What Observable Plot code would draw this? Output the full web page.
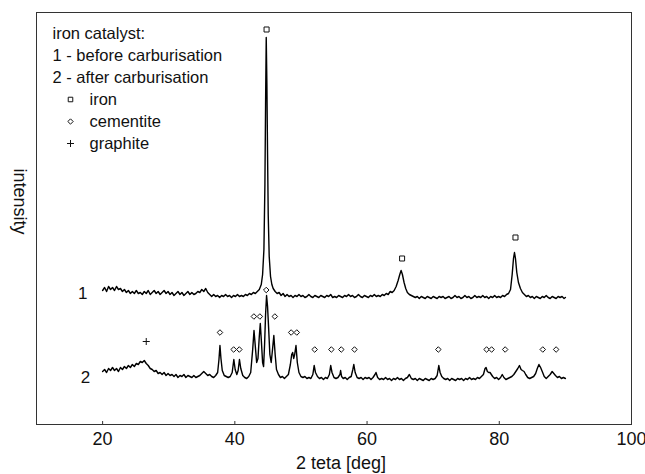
<!DOCTYPE html>
<html><head><meta charset="utf-8">
<script src="https://cdn.jsdelivr.net/npm/d3@7"></script>
<script src="https://cdn.jsdelivr.net/npm/@observablehq/plot@0.6"></script>
<style>html,body{margin:0;padding:0;background:#fff}</style>
</head><body><div id="chart"></div>
<script>
// curve 1 – before carburisation: [2θ, intensity]
const curve1 = [
[20.0,134],[20.3,137],[20.6,133],[20.9,138],[21.2,135],[21.5,137],[21.8,134],[22.1,138],[22.4,135],[22.7,136],
[23.0,133],[23.3,135],[23.6,132],[23.9,134],[24.2,131],[24.5,133],[24.8,131],[25.1,134],[25.4,131],[25.7,132],
[26.0,130],[26.3,133],[26.6,131],[26.9,134],[27.2,130],[27.5,132],[27.8,134],[28.1,131],[28.4,133],[28.7,130],
[29.0,132],[29.3,134],[29.6,131],[29.9,133],[30.2,130],[30.5,132],[30.8,129],[31.1,131],[31.4,133],[31.7,130],
[32.0,132],[32.3,129],[32.6,131],[32.9,133],[33.2,130],[33.5,132],[33.8,130],[34.1,131],[34.4,133],[34.7,132],
[35.0,135],[35.3,133],[35.6,136],[35.9,132],[36.2,130],[36.5,128],[36.8,130],[37.1,128],[37.4,129],[37.7,127],
[38.0,129],[38.3,128],[38.6,130],[38.9,128],[39.2,129],[39.5,127],[39.8,129],[40.1,128],[40.4,130],[40.7,128],
[41.0,129],[41.3,128],[41.6,130],[41.9,129],[42.2,131],[42.5,130],[42.8,132],[43.1,131],[43.4,133],[43.7,135],
[44.0,140],[44.2,150],[44.4,175],[44.55,240],[44.65,320],[44.75,387],[44.85,340],[44.95,270],[45.05,210],[45.2,168],
[45.4,148],[45.6,140],[45.8,136],[46.1,133],[46.4,131],[46.7,132],[47.0,129],[47.3,131],[47.6,128],[47.9,130],
[48.2,128],[48.5,129],[48.8,127],[49.1,129],[49.4,128],[49.7,130],[50.0,128],[50.3,129],[50.6,127],[50.9,128],
[51.2,130],[51.5,128],[51.8,127],[52.1,129],[52.4,128],[52.7,127],[53.0,129],[53.3,128],[53.6,127],[53.9,129],
[54.2,128],[54.5,130],[54.8,127],[55.1,128],[55.4,127],[55.7,129],[56.0,128],[56.3,127],[56.6,129],[56.9,128],
[57.2,130],[57.5,128],[57.8,129],[58.1,127],[58.4,128],[58.7,130],[59.0,128],[59.3,127],[59.6,129],[59.9,128],
[60.2,127],[60.5,129],[60.8,128],[61.1,130],[61.4,128],[61.7,129],[62.0,128],[62.3,130],[62.6,129],[62.9,131],
[63.2,130],[63.5,133],[63.8,132],[64.1,134],[64.4,138],[64.7,144],[64.95,150],[65.15,154],[65.35,150],[65.6,142],
[65.85,136],[66.1,132],[66.4,130],[66.7,129],[67.0,128],[67.3,127],[67.6,128],[67.9,126],[68.2,128],[68.5,127],
[68.8,126],[69.1,128],[69.4,127],[69.7,126],[70.0,128],[70.3,127],[70.6,126],[70.9,128],[71.2,127],[71.5,128],
[71.8,126],[72.1,127],[72.4,128],[72.7,126],[73.0,127],[73.3,129],[73.6,127],[73.9,128],[74.2,126],[74.5,127],
[74.8,129],[75.1,127],[75.4,128],[75.7,126],[76.0,127],[76.3,129],[76.6,127],[76.9,128],[77.2,127],[77.5,129],
[77.8,127],[78.1,128],[78.4,126],[78.7,128],[79.0,127],[79.3,129],[79.6,127],[79.9,128],[80.2,127],[80.5,129],
[80.8,128],[81.1,130],[81.4,131],[81.7,135],[81.95,150],[82.15,166],[82.3,172],[82.45,166],[82.65,152],[82.9,142],
[83.2,136],[83.5,132],[83.8,130],[84.1,128],[84.4,129],[84.7,127],[85.0,128],[85.3,126],[85.6,128],[85.9,127],
[86.2,126],[86.5,128],[86.8,127],[87.1,129],[87.4,127],[87.7,126],[88.0,128],[88.3,127],[88.6,126],[88.9,128],
[89.2,127],[89.5,128],[89.8,126],[90.0,127]
];
// curve 2 – after carburisation
const curve2 = [
[20.0,53],[20.3,55],[20.6,52],[20.9,56],[21.2,54],[21.5,57],[21.8,54],[22.1,56],[22.4,53],[22.7,57],
[23.0,55],[23.3,58],[23.6,56],[23.9,59],[24.2,57],[24.5,60],[24.8,58],[25.1,61],[25.4,60],[25.7,63],
[26.0,62],[26.3,64],[26.6,61],[26.9,59],[27.2,56],[27.5,55],[27.8,53],[28.1,54],[28.4,51],[28.7,52],
[29.0,50],[29.3,52],[29.6,49],[29.9,51],[30.2,49],[30.5,50],[30.8,48],[31.1,50],[31.4,47],[31.7,49],
[32.0,48],[32.3,50],[32.6,47],[32.9,49],[33.2,48],[33.5,47],[33.8,49],[34.1,47],[34.4,48],[34.7,49],
[35.0,51],[35.3,53],[35.6,51],[35.9,49],[36.2,50],[36.5,48],[36.8,47],[37.1,49],[37.4,52],[37.6,65],
[37.75,79],[37.9,66],[38.1,54],[38.4,49],[38.7,48],[39.0,47],[39.3,48],[39.6,52],[39.85,65],[40.05,55],
[40.3,50],[40.5,54],[40.7,65],[40.9,56],[41.2,49],[41.5,47],[41.8,46],[42.1,48],[42.4,52],[42.7,75],
[42.9,94],[43.1,78],[43.3,62],[43.5,66],[43.7,88],[43.85,101],[44.0,85],[44.2,62],[44.35,58],[44.5,80],
[44.65,110],[44.8,129],[44.95,118],[45.1,98],[45.3,70],[45.5,62],[45.7,75],[45.9,89],[46.1,70],[46.3,55],
[46.6,50],[46.9,47],[47.2,48],[47.5,46],[47.8,48],[48.1,50],[48.4,60],[48.6,70],[48.75,72],[48.9,66],
[49.05,70],[49.25,79],[49.45,62],[49.7,52],[50.0,48],[50.3,47],[50.6,48],[50.9,46],[51.2,47],[51.5,46],
[51.8,50],[52.0,59],[52.2,52],[52.5,48],[52.8,46],[53.1,47],[53.4,45],[53.7,47],[54.0,46],[54.3,50],
[54.5,59],[54.7,52],[55.0,47],[55.3,46],[55.6,47],[55.9,50],[56.0,54],[56.15,48],[56.4,46],[56.7,47],
[57.0,45],[57.3,47],[57.6,48],[57.85,55],[58.0,60],[58.2,52],[58.5,47],[58.8,46],[59.1,47],[59.4,45],
[59.7,47],[60.0,46],[60.3,47],[60.6,45],[60.9,47],[61.2,50],[61.35,52],[61.6,47],[61.9,45],[62.2,46],
[62.5,45],[62.8,47],[63.1,45],[63.4,46],[63.7,44],[64.0,46],[64.3,45],[64.6,47],[64.9,45],[65.2,46],
[65.5,44],[65.8,46],[66.1,47],[66.4,50],[66.7,46],[67.0,45],[67.3,46],[67.6,44],[67.9,46],[68.2,45],
[68.5,44],[68.8,46],[69.1,45],[69.4,44],[69.7,46],[70.0,45],[70.3,46],[70.6,49],[70.85,59],[71.05,52],
[71.3,48],[71.6,46],[71.9,45],[72.2,46],[72.5,44],[72.8,46],[73.1,45],[73.4,44],[73.7,46],[74.0,45],
[74.3,46],[74.6,44],[74.9,46],[75.2,45],[75.5,47],[75.8,45],[76.1,46],[76.4,45],[76.7,47],[77.0,46],
[77.3,48],[77.6,50],[77.85,56],[78.0,57],[78.2,53],[78.4,52],[78.6,52],[78.8,50],[79.0,48],[79.3,46],
[79.6,47],[79.9,45],[80.2,47],[80.45,50],[80.7,47],[81.0,45],[81.3,46],[81.6,47],[81.9,48],[82.2,50],
[82.5,53],[82.8,56],[83.05,59],[83.3,55],[83.5,54],[83.75,53],[84.0,50],[84.3,47],[84.6,46],[84.9,47],
[85.2,48],[85.5,51],[85.75,56],[86.0,60],[86.25,57],[86.5,53],[86.8,48],[87.1,46],[87.4,48],[87.7,50],
[88.0,53],[88.25,51],[88.5,49],[88.8,47],[89.1,48],[89.4,46],[89.7,47],[90.0,46]
];
// phase markers: [2θ, marker level]
const ironMarks = [[44.8,395],[65.3,166],[82.45,187]];
const cementiteMarks = [
[37.75,92],[39.82,75],[40.68,75],[42.88,108],[43.79,108],[44.75,134.5],[46.05,108],
[48.52,92],[49.37,92],[52.08,75],[54.6,75],[56.1,75],[58.1,75],[70.78,75],
[78.08,75],[78.84,75],[80.89,75],[86.58,75],[88.6,75]
];
const graphiteMarks = [[26.6,83]];
const curveLabels = [[17.0,131,"1"],[17.4,47,"2"]];
const legendLines = ["iron catalyst:", "1 - before carburisation", "2 - after carburisation"];
const legendPhases = ["iron", "cementite", "graphite"];
const legendSymbols = ["square2", "diamond2", "plus"];
const xTicks = [20, 40, 60, 80, 100];

const FONT = "'Liberation Sans', Arial, Helvetica, sans-serif";
const toXY = a => a.map(([x, y]) => ({x, y}));

const legendMarks = [];
legendLines.forEach((t, i) => legendMarks.push(
  Plot.text([t], {frameAnchor: "top-left", dx: 16, dy: 21 + 22 * i, textAnchor: "start", lineAnchor: "middle", fontSize: 16.5, fill: "#111"})
));
legendPhases.forEach((t, i) => {
  legendMarks.push(Plot.text([t], {frameAnchor: "top-left", dx: 53, dy: 87 + 22 * i, textAnchor: "start", lineAnchor: "middle", fontSize: 16.5, fill: "#111"}));
  legendMarks.push(Plot.dot([t], {frameAnchor: "top-left", dx: 34, dy: 87 + 22 * i, symbol: legendSymbols[i], r: i === 0 ? 2.9 : 2.4, stroke: "#111", strokeWidth: 1, fill: "none"}));
});

const chart = Plot.plot({
  width: 645, height: 474,
  marginLeft: 36, marginRight: 14, marginTop: 12, marginBottom: 50,
  style: {fontFamily: FONT, background: "#fff", overflow: "visible"},
  x: {domain: [10, 100]},
  y: {domain: [0, 412], axis: null},
  marks: [
    Plot.frame({stroke: "#333", strokeWidth: 1}),
    Plot.axisX(xTicks, {tickSize: 0, tickPadding: 8, fontSize: 18, label: null, fill: "#111"}),
    Plot.ruleX(xTicks.slice(0, 4), {y1: 0, y2: 3, stroke: "#333"}),
    Plot.text(["2 teta [deg]"], {frameAnchor: "bottom", dx: 7, dy: 44, fontSize: 18, fill: "#111"}),
    Plot.text(["intensity"], {frameAnchor: "left", dx: -17, dy: -50, rotate: 90, fontSize: 18, fill: "#111"}),
    Plot.line(toXY(curve1), {x: "x", y: "y", stroke: "#000", strokeWidth: 1.4}),
    Plot.line(toXY(curve2), {x: "x", y: "y", stroke: "#000", strokeWidth: 1.4}),
    Plot.dot(toXY(ironMarks), {x: "x", y: "y", symbol: "square2", r: 3.2, stroke: "#111", strokeWidth: 1, fill: "white"}),
    Plot.dot(toXY(cementiteMarks), {x: "x", y: "y", symbol: "diamond2", r: 2.5, stroke: "#111", strokeWidth: 1, fill: "white"}),
    Plot.dot(toXY(graphiteMarks), {x: "x", y: "y", symbol: "plus", r: 2.4, stroke: "#111", strokeWidth: 1}),
    Plot.text(curveLabels.map(([x, y, t]) => ({x, y, t})), {x: "x", y: "y", text: "t", fontSize: 17, fill: "#111"}),
    ...legendMarks
  ]
});
document.getElementById("chart").appendChild(chart);
</script>
</body></html>
